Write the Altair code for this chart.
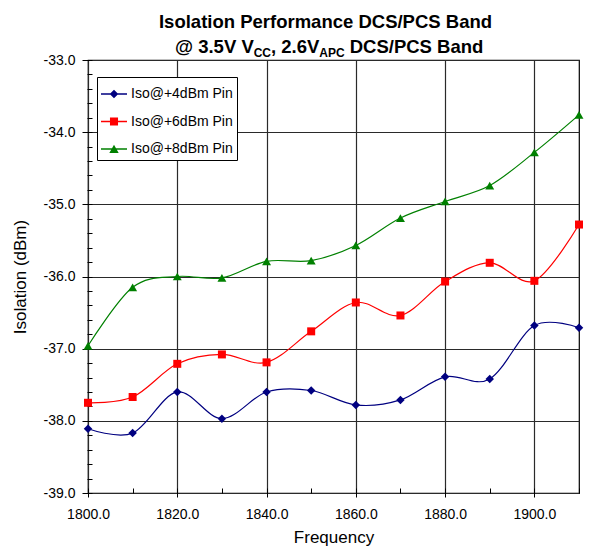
import altair as alt
import pandas as pd

# ---------------- data ----------------
freq = [1800, 1810, 1820, 1830, 1840, 1850, 1860, 1870, 1880, 1890, 1900, 1910]
iso_4dbm = [-38.11, -38.17, -37.60, -37.97, -37.60, -37.58, -37.78, -37.71, -37.39, -37.42, -36.68, -36.71]
iso_6dbm = [-37.75, -37.67, -37.21, -37.08, -37.19, -36.76, -36.36, -36.54, -36.07, -35.81, -36.06, -35.28]
iso_8dbm = [-36.96, -36.15, -36.00, -36.02, -35.79, -35.78, -35.57, -35.19, -34.96, -34.74, -34.28, -33.76]

series_names = ["Iso@+4dBm Pin", "Iso@+6dBm Pin", "Iso@+8dBm Pin"]
series_colors = ["#000080", "#FF0000", "#008000"]
marker_shapes = ["diamond", "square", "triangle-up"]

x_major = [1800, 1820, 1840, 1860, 1880, 1900]
x_minor = [1800, 1810, 1820, 1830, 1840, 1850, 1860, 1870, 1880, 1890, 1900, 1910]
y_major = [-39, -38, -37, -36, -35, -34, -33]
y_minor = [round(-39 + 0.2 * i, 1) for i in range(31)]

# legend symbols: line stub + marker (filled custom paths)
stub = "M-1,-0.05H1V0.05H-1Z "
legend_shapes = [
    stub + "M0,-0.33L0.33,0L0,0.33L-0.33,0Z",
    stub + "M-0.31,-0.31H0.31V0.31H-0.31Z",
    stub + "M0,-0.32L0.36,0.3H-0.36Z",
]

rows = []
for name, vals in zip(series_names, [iso_4dbm, iso_6dbm, iso_8dbm]):
    for f, v in zip(freq, vals):
        rows.append({"freq": f, "iso": v, "series": name})
df = pd.DataFrame(rows)

FONT = "Liberation Sans"
GRID = "#2a2a2a"

xscale = alt.Scale(domain=[1800, 1910], nice=False, zero=False)
yscale = alt.Scale(domain=[-39, -33], nice=False, zero=False)
color_scale = alt.Scale(domain=series_names, range=series_colors)

base = alt.Chart(df)

# main axes (labels + major ticks) on the line layer
lines = base.mark_line(interpolate="cardinal", strokeWidth=1.2).encode(
    x=alt.X("freq:Q", scale=xscale,
            axis=alt.Axis(orient="bottom", values=x_major, format=".1f", title="Frequency",
                          grid=False, domain=False, tickSize=7, offset=-3, tickColor="black",
                          labelPadding=10, labelFontSize=14, labelFont=FONT, labelColor="black",
                          labelFlush=False, labelOverlap=False,
                          titleFontSize=17, titleFont=FONT, titleFontWeight="normal",
                          titleColor="black", titlePadding=8)),
    y=alt.Y("iso:Q", scale=yscale,
            axis=alt.Axis(orient="left", values=y_major, format=".1f", title="Isolation (dBm)",
                          labelExpr="replace(datum.label, '\u2212', '-')",
                          grid=False, domain=False, tickSize=9, offset=-3, tickColor="black",
                          labelPadding=7, labelFontSize=14, labelFont=FONT, labelColor="black",
                          labelFlush=False, labelOverlap=False,
                          titleFontSize=17, titleFont=FONT, titleFontWeight="normal",
                          titleColor="black", titlePadding=14)),
    color=alt.Color("series:N", scale=color_scale, legend=None),
)

point_layers = []
for i, (name, shp) in enumerate(zip(series_names, marker_shapes)):
    if i == 0:
        xenc = alt.X("freq:Q", scale=xscale,
                     axis=alt.Axis(orient="bottom", values=x_minor, labels=False, grid=False,
                                   domain=False, tickSize=5, offset=-5, tickColor="black", title=None))
        yenc = alt.Y("iso:Q", scale=yscale,
                     axis=alt.Axis(orient="left", values=y_minor, labels=False, grid=False,
                                   domain=False, tickSize=5, offset=-4, tickColor="black", title=None))
    else:
        xenc = alt.X("freq:Q", scale=xscale, axis=None)
        yenc = alt.Y("iso:Q", scale=yscale, axis=None)
    size = 80 if shp == "triangle-up" else (64 if shp == "square" else 72)
    point_layers.append(
        base.transform_filter(alt.datum.series == name)
        .mark_point(filled=True, opacity=1, shape=shp, size=size)
        .encode(x=xenc, y=yenc, color=alt.Color("series:N", scale=color_scale, legend=None))
    )

legend_def = alt.Legend(
    title=None, orient="none", legendX=9, legendY=17, padding=4, rowPadding=7.5,
    symbolSize=676, symbolStrokeWidth=0, symbolOpacity=1,
    labelFontSize=14, labelFont=FONT, labelColor="black", labelOffset=4,
    fillColor="white", strokeColor="black",
)

# grid axes + legend source (invisible marks)
legend_layer = base.mark_point(filled=True, opacity=0).encode(
    x=alt.X("freq:Q", scale=xscale,
            axis=alt.Axis(orient="bottom", values=x_major, grid=True, labels=False, ticks=False,
                          domain=False, title=None, gridColor=GRID, gridWidth=1.2, gridOpacity=1)),
    y=alt.Y("iso:Q", scale=yscale,
            axis=alt.Axis(orient="left", values=y_major, grid=True, labels=False, ticks=False,
                          domain=False, title=None, gridColor=GRID, gridWidth=1.2, gridOpacity=1)),
    color=alt.Color("series:N", scale=color_scale, legend=legend_def),
    shape=alt.Shape("series:N", scale=alt.Scale(domain=series_names, range=legend_shapes),
                    legend=legend_def),
)

# title texts
one = alt.Data(values=[{}])
def txt(s, x, y, size, align="left"):
    return alt.Chart(one).mark_text(
        text=s, font=FONT, fontSize=size, fontWeight="bold", color="black",
        align=align, baseline="alphabetic"
    ).encode(x=alt.value(x), y=alt.value(y))

titles = [
    txt("Isolation Performance DCS/PCS Band", 237.5, -32, 18.5, align="center"),
    txt("@ 3.5V V", 87, -7, 18.5),
    txt("CC", 165.7, -3, 12),
    txt(", 2.6V", 183, -7, 18.5),
    txt("APC", 231.3, -3, 12),
    txt("DCS/PCS Band", 261.7, -7, 18.5),
]

chart = alt.layer(legend_layer, lines, *point_layers, *titles).resolve_axis(
    x="independent", y="independent"
).properties(
    width=491, height=433,
    padding={"left": 80, "top": 52, "right": 20, "bottom": 54},
    autosize=alt.AutoSizeParams(type="none"),
    background="white",
).configure_view(stroke="black", strokeWidth=1.2)

chart.save("out.html", embed_options={"renderer": "svg", "actions": False})
